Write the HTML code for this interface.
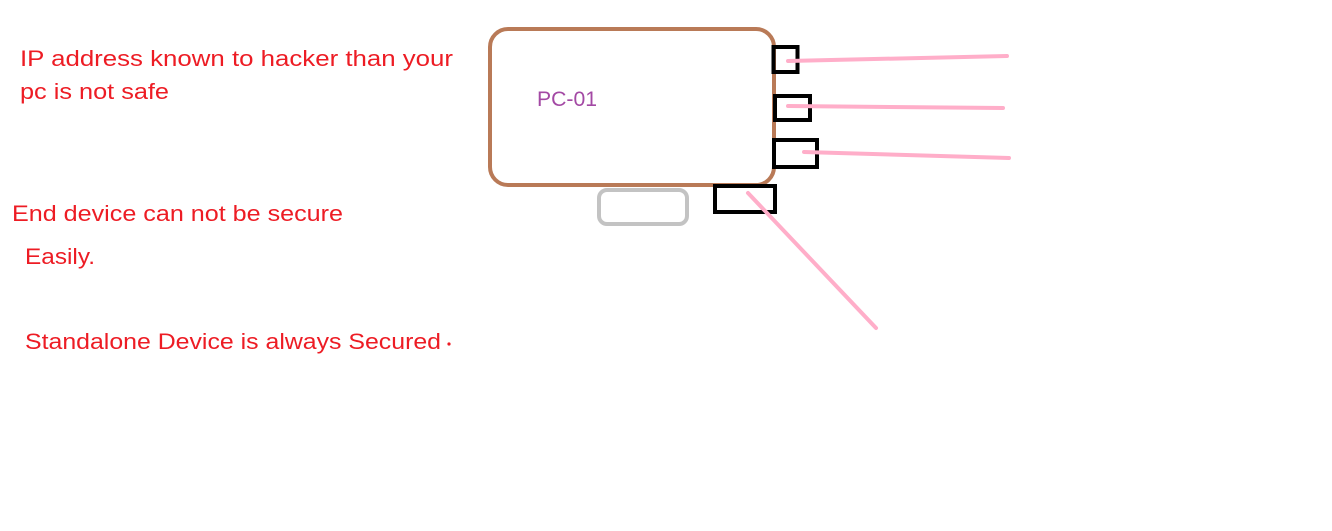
<!DOCTYPE html>
<html><head><meta charset="utf-8"><style>html,body{margin:0;padding:0;background:#fff;width:1332px;height:531px;overflow:hidden}</style></head>
<body>
<svg width="1332" height="531" xmlns="http://www.w3.org/2000/svg" style="display:block">
<rect x="490" y="29" width="284" height="156" rx="18" fill="none" stroke="#b97a57" stroke-width="4"/>
<rect x="599" y="190" width="88" height="34" rx="8" fill="none" stroke="#c3c3c3" stroke-width="4"/>
<g fill="none" stroke="#000" stroke-width="4">
<rect x="773.5" y="47" width="24" height="25"/>
<rect x="775" y="96" width="35" height="24"/>
<rect x="774" y="140" width="43" height="27"/>
<rect x="715" y="186" width="60" height="26"/>
</g>
<g stroke="#ffaec9" stroke-width="4" stroke-linecap="round">
<line x1="788" y1="61" x2="1007" y2="56"/>
<line x1="788" y1="106" x2="1003" y2="108"/>
<line x1="804" y1="152" x2="1009" y2="158"/>
<line x1="748" y1="193" x2="876" y2="328"/>
</g>
<g font-family="Liberation Sans, sans-serif" font-size="22" fill="#ed1c24">
<text x="20" y="66" textLength="433" lengthAdjust="spacingAndGlyphs">IP address known to hacker than your</text>
<text x="20" y="99" textLength="149" lengthAdjust="spacingAndGlyphs">pc is not safe</text>
<text x="12" y="221" textLength="331" lengthAdjust="spacingAndGlyphs">End device can not be secure</text>
<text x="25" y="264" textLength="70" lengthAdjust="spacingAndGlyphs">Easily.</text>
<text x="25" y="349" textLength="416" lengthAdjust="spacingAndGlyphs">Standalone Device is always Secured</text>
</g>
<circle cx="449" cy="344" r="1.6" fill="#ed1c24"/>
<text x="537" y="106" font-family="Liberation Sans, sans-serif" font-size="21" fill="#a349a4" textLength="60" lengthAdjust="spacingAndGlyphs">PC-01</text>
</svg>
</body></html>
